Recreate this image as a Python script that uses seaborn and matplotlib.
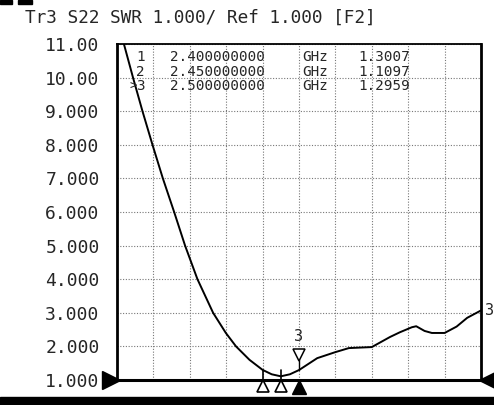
import numpy as np
import pandas as pd
import matplotlib
matplotlib.use("Agg")
import matplotlib.pyplot as plt
import seaborn as sns
from matplotlib.patches import Rectangle

# ---- data ----
freq_ghz = [2.000, 2.019, 2.044, 2.070, 2.0975, 2.126, 2.157, 2.187, 2.221, 2.264,
            2.299, 2.327, 2.364, 2.400, 2.425, 2.450, 2.475, 2.500,
            2.550, 2.600, 2.637, 2.700, 2.750, 2.777, 2.810, 2.822, 2.845, 2.865,
            2.900, 2.933, 2.962, 3.000]
swr = [11.9, 11.0, 10.0, 9.00, 8.00, 7.00, 6.00, 5.00, 4.00, 3.00,
       2.40, 2.00, 1.60, 1.3007, 1.17, 1.1097, 1.17, 1.2959,
       1.65, 1.83, 1.95, 1.98, 2.28, 2.42, 2.57, 2.60, 2.46, 2.40,
       2.40, 2.59, 2.85, 3.07]

marker_ids = ["1", "2", "3"]
marker_freq = [2.40, 2.45, 2.50]
marker_freq_txt = ["2.400000000", "2.450000000", "2.500000000"]
marker_val = [1.3007, 1.1097, 1.2959]

y_ticks = [1, 2, 3, 4, 5, 6, 7, 8, 9, 10, 11]
y_tick_labels = ["1.000", "2.000", "3.000", "4.000", "5.000", "6.000",
                 "7.000", "8.000", "9.000", "10.00", "11.00"]
title_text = "Tr3 S22 SWR 1.000/ Ref 1.000 [F2]"

df = pd.DataFrame({"freq": freq_ghz, "swr": swr})

# ---- figure ----
W, H = 494, 405
sns.set_style("white")
plt.rcParams["font.family"] = ["DejaVu Sans Mono", "DejaVu Sans"]
fig = plt.figure(figsize=(W / 100, H / 100), dpi=100)
L, R, T, B = 117, 481, 44, 380
ax = fig.add_axes([L / W, (H - B) / H, (R - L) / W, (B - T) / H])

sns.lineplot(data=df, x="freq", y="swr", ax=ax, color="black", linewidth=1.4)

ax.set_xlim(2.0, 3.0)
ax.set_ylim(1, 11)
ax.set_xticks(np.linspace(2.0, 3.0, 11))
ax.set_xticklabels([])
ax.set_yticks(y_ticks)
ax.set_yticklabels(y_tick_labels, fontsize=13)
ax.tick_params(axis="both", length=0, pad=12.5)
ax.set_xlabel("")
ax.set_ylabel("")
ax.grid(True, color="#777777", linestyle=(0, (1, 1.5)), linewidth=0.8)
for side, lw in [("left", 2.0), ("right", 2.0), ("top", 1.3), ("bottom", 2.2)]:
    ax.spines[side].set_visible(True)
    ax.spines[side].set_color("black")
    ax.spines[side].set_linewidth(lw)

# reference level triangles
ax.plot([-0.017], [0.0], marker=">", markersize=13, color="black",
        transform=ax.transAxes, clip_on=False)
ax.plot([1.02], [0.0], marker="<", markersize=13, color="black",
        transform=ax.transAxes, clip_on=False)

# marker symbols under the axis
trans = ax.get_xaxis_transform()
for i, (mid, mf) in enumerate(zip(marker_ids, marker_freq)):
    if i < 2:
        ax.plot([mf], [-0.018], marker="^", markersize=9, markerfacecolor="white",
                markeredgecolor="black", markeredgewidth=1.2, transform=trans, clip_on=False)
        ax.plot([mf, mf], [0.0, 0.03], color="black", lw=1.2, transform=trans, clip_on=False)
    else:
        ax.plot([mf], [-0.02], marker="^", markersize=10, color="black",
                transform=trans, clip_on=False)
# active marker 3 above trace
ax.plot([marker_freq[2]], [marker_val[2] + 0.45], marker="v", markersize=8,
        markerfacecolor="white", markeredgecolor="black", markeredgewidth=1.1)
ax.plot([marker_freq[2]] * 2, [marker_val[2], marker_val[2] + 0.3], color="black", lw=1.0)
ax.text(marker_freq[2], marker_val[2] + 1.0, marker_ids[2], ha="center", va="center",
        fontsize=11)

# trace label at right
ax.text(1.012, (swr[-1] - 1) / 10, "3", transform=ax.transAxes, ha="left",
        va="center", fontsize=11)

# marker table
row_y = [57, 71.5, 86]
fs = 10.3
for i in range(3):
    y = 1 - row_y[i] / H
    if i == 2:
        fig.text(129 / W, y, ">", fontsize=9, va="center", ha="left")
    fig.text(136 / W, y, marker_ids[i], fontsize=fs, va="center", ha="left")
    fig.text(170 / W, y, marker_freq_txt[i], fontsize=fs, va="center", ha="left")
    fig.text(302 / W, y, "GHz", fontsize=fs, va="center", ha="left")
    fig.text(358 / W, y, f"{marker_val[i]:.4f}", fontsize=fs, va="center", ha="left")

# title
fig.text(25 / W, 1 - 18 / H, title_text, fontsize=12.8, va="center", ha="left")

# bottom black bar and top-left blobs
fig.patches.append(Rectangle((0, 0), 1, 8 / H, transform=fig.transFigure,
                             color="black", zorder=0))
fig.patches.append(Rectangle((0, 1 - 4 / H), 12 / W, 4 / H, transform=fig.transFigure,
                             color="black"))
fig.patches.append(Rectangle((18 / W, 1 - 4 / H), 14 / W, 4 / H, transform=fig.transFigure,
                             color="black"))

fig.savefig("out.png", dpi=100, facecolor="white")
